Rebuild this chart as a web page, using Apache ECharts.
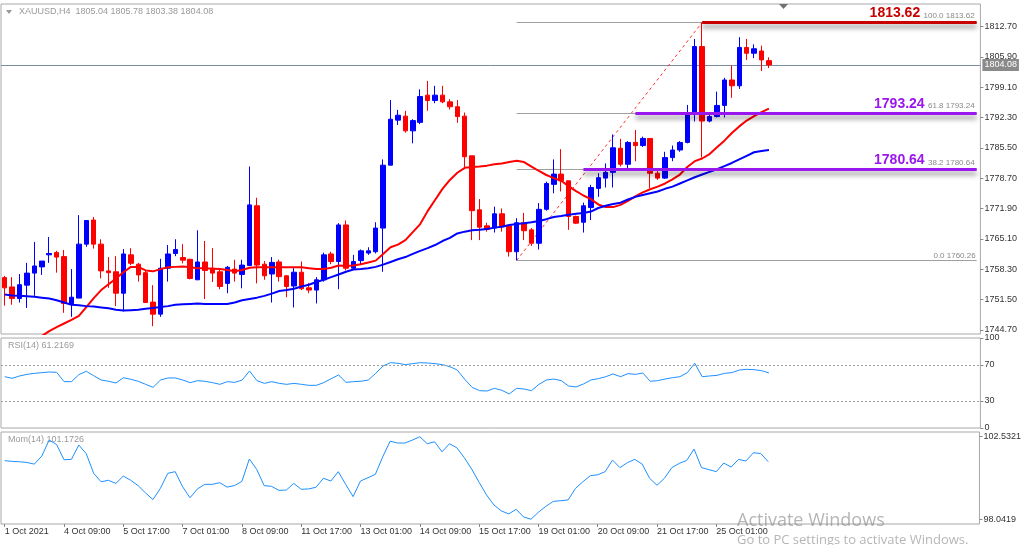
<!DOCTYPE html>
<html><head><meta charset="utf-8">
<script src="https://cdn.jsdelivr.net/npm/echarts@6/dist/echarts.min.js"></script>
<style>html,body{margin:0;padding:0;background:#fff;}#c{width:1024px;height:545px;}</style>
</head><body><div id="c"></div>
<script>
const symbolName = 'XAUUSD,H4';
const opens = [1756.4,1754.3,1751.7,1754.7,1757.4,1758.8,1761.5,1762.0,1761.1,1750.5,
1751.8,1763.9,1769.3,1763.9,1757.9,1757.7,1752.9,1761.5,1759.4,1757.5,
1750.9,1748.2,1758.5,1761.8,1760.9,1760.5,1755.9,1759.9,1758.5,1757.7,
1755.1,1758.3,1757.1,1759.1,1772.5,1759.4,1757.2,1759.9,1756.8,1754.5,
1757.6,1754.1,1753.6,1755.9,1761.7,1760.0,1768.2,1758.5,1760.2,1761.9,
1762.2,1767.5,1781.6,1791.7,1792.6,1789.3,1791.2,1797.3,1796.1,1797.3,
1795.8,1794.7,1792.6,1783.7,1771.6,1768.0,1767.5,1770.7,1768.0,1762.2,
1768.7,1767.1,1764.1,1771.7,1777.3,1779.6,1778.1,1770.1,1768.8,1772.1,
1776.4,1778.7,1780.0,1785.4,1781.8,1786.7,1786.0,1787.6,1779.8,1778.7,
1783.3,1785.0,1786.7,1793.0,1808.2,1791.5,1792.5,1795.0,1800.7,1799.4,
1808.0,1806.7,1807.2,1805.04];
const highs = [1756.8,1756.5,1757.2,1759.7,1764.4,1760.1,1765.5,1762.4,1762.6,1758.3,
1770.4,1769.3,1770.0,1765.0,1761.0,1761.2,1762.8,1763.0,1759.7,1757.9,
1754.7,1760.6,1763.7,1765.0,1763.9,1760.6,1767.0,1764.6,1763.0,1758.1,
1759.0,1760.4,1760.4,1781.3,1774.3,1760.1,1761.0,1760.4,1757.0,1758.7,
1760.0,1755.2,1756.5,1762.0,1762.2,1768.6,1769.2,1761.5,1762.7,1763.2,
1768.8,1782.9,1796.2,1794.0,1793.8,1791.9,1798.6,1800.5,1799.4,1799.4,
1796.4,1796.2,1793.4,1783.7,1774.0,1768.7,1772.3,1771.9,1768.0,1769.7,
1770.9,1767.5,1773.1,1777.9,1782.9,1785.2,1778.1,1770.3,1773.2,1777.2,
1779.8,1782.0,1788.5,1787.5,1787.0,1789.5,1788.0,1787.6,1780.5,1784.6,
1786.0,1787.0,1795.1,1809.9,1813.62,1793.2,1798.1,1801.2,1803.9,1810.3,
1809.9,1808.7,1808.4,1805.78];
const lows = [1750.1,1750.3,1750.8,1749.6,1752.3,1757.0,1759.7,1757.5,1748.5,1747.6,
1751.8,1763.3,1762.9,1756.2,1754.1,1750.0,1748.8,1759.2,1755.5,1750.7,
1745.5,1747.6,1755.5,1761.2,1759.6,1756.0,1755.9,1751.6,1755.4,1753.8,
1752.9,1755.5,1754.0,1759.0,1755.1,1755.9,1750.8,1755.5,1752.0,1749.7,
1753.6,1752.9,1750.6,1755.5,1759.4,1753.8,1758.0,1758.1,1759.4,1761.5,
1761.8,1757.7,1781.6,1790.6,1788.9,1786.5,1790.8,1793.8,1795.5,1795.5,
1794.1,1791.1,1780.7,1764.8,1764.8,1766.7,1766.5,1766.7,1761.1,1760.26,
1764.8,1763.5,1762.7,1771.4,1775.3,1775.7,1767.1,1768.4,1766.5,1769.3,
1774.5,1776.6,1776.6,1781.3,1780.9,1782.5,1785.7,1776.4,1778.3,1778.5,
1782.5,1784.6,1786.5,1791.4,1783.3,1791.2,1792.3,1792.3,1796.7,1798.7,
1805.2,1805.6,1802.7,1803.38];
const closes = [1754.1,1751.7,1754.8,1757.4,1759.0,1760.1,1761.8,1761.0,1750.6,1752.0,
1763.9,1769.2,1763.9,1757.9,1757.5,1752.9,1761.7,1759.6,1757.0,1750.8,
1748.2,1758.5,1761.7,1762.7,1760.3,1756.2,1759.9,1758.0,1757.4,1754.4,
1758.7,1757.4,1759.2,1772.7,1759.2,1756.8,1759.8,1756.6,1754.4,1757.6,
1753.9,1753.6,1755.9,1761.5,1760.0,1768.2,1758.5,1760.0,1762.4,1762.4,
1767.5,1781.6,1791.9,1792.8,1789.3,1791.6,1797.0,1796.1,1797.3,1795.8,
1794.7,1792.5,1783.5,1771.4,1767.7,1767.2,1770.7,1767.8,1762.2,1768.7,
1766.9,1764.1,1771.7,1777.5,1779.6,1778.1,1770.1,1768.6,1772.5,1776.6,
1778.8,1780.0,1785.5,1781.8,1786.7,1786.0,1787.6,1779.8,1778.7,1783.3,
1785.0,1786.7,1793.0,1808.2,1791.5,1792.5,1795.0,1800.7,1799.4,1808.0,
1806.7,1807.7,1805.2,1804.08];
const maFast = [null,null,null,null,null,1743.3,1744.4,1745.3,1746.1,1746.9,
1747.8,1749.8,1751.8,1753.6,1754.9,1756.2,1757.6,1758.8,1758.8,1758.0,
1757.8,1758.3,1758.7,1758.8,1758.9,1758.7,1758.5,1758.5,1758.4,1758.3,
1758.1,1757.8,1758.1,1758.6,1758.7,1758.7,1758.7,1758.7,1758.7,1758.7,
1758.7,1758.5,1758.3,1758.3,1758.6,1759.1,1759.0,1759.1,1759.4,1759.8,
1760.2,1761.7,1763.2,1763.8,1764.8,1766.6,1768.4,1771.3,1773.8,1776.3,
1778.3,1779.9,1781.0,1781.2,1781.3,1781.5,1781.8,1782.0,1782.3,1782.6,
1782.3,1781.3,1780.3,1779.4,1778.7,1778.1,1776.9,1775.8,1774.8,1774.0,
1772.8,1772.2,1772.2,1772.7,1773.6,1774.6,1775.5,1776.2,1776.8,1777.5,
1778.4,1779.5,1781.2,1782.5,1783.1,1784.1,1785.6,1787.1,1788.8,1790.3,
1791.6,1792.6,1793.5,1794.3];
const maSlow = [1752.6,1752.4,1752.3,1752.2,1752.1,1751.9,1751.7,1751.3,1750.8,1750.3,
1750.2,1750.0,1749.9,1749.7,1749.5,1749.2,1749.0,1749.1,1749.2,1749.4,
1749.6,1749.8,1750.0,1750.3,1750.4,1750.5,1750.6,1750.5,1750.5,1750.5,
1750.5,1750.8,1751.3,1751.6,1751.9,1752.3,1752.8,1753.4,1753.6,1753.9,
1754.4,1754.8,1755.4,1755.9,1756.5,1757.1,1757.7,1758.2,1758.3,1758.5,
1758.8,1759.3,1759.9,1760.5,1761.0,1761.7,1762.4,1763.0,1763.7,1764.6,
1765.3,1766.3,1766.7,1767.0,1767.1,1767.3,1767.6,1767.8,1768.2,1768.4,
1768.6,1768.8,1769.1,1769.5,1770.0,1770.2,1770.5,1770.7,1770.9,1771.2,
1772.0,1772.5,1772.9,1773.2,1773.9,1774.5,1774.9,1775.3,1775.7,1776.3,
1776.8,1777.5,1778.2,1778.9,1779.5,1780.1,1780.7,1781.4,1782.1,1782.9,
1783.7,1784.5,1784.8,1785.0];
const rsi = [57.0,55.2,57.8,59.6,60.7,61.5,62.2,61.9,51.5,51.5,
59.3,63.0,58.1,53.3,51.9,50.0,55.9,54.1,51.9,48.5,
45.2,53.3,55.6,55.6,53.3,50.4,52.6,51.9,50.4,48.5,
51.5,50.7,53.3,63.3,52.6,49.6,51.5,49.6,48.5,49.6,
48.5,47.4,47.4,50.4,54.8,58.9,50.7,51.5,51.9,53.3,
60.7,68.9,72.6,71.9,70.4,71.5,72.6,72.2,71.5,70.4,
68.1,64.4,54.1,45.2,41.5,41.1,44.1,41.9,37.8,44.1,
43.3,41.5,48.5,53.3,54.4,52.6,46.7,45.6,48.9,53.3,
54.8,57.0,60.0,57.0,60.4,59.6,61.1,51.9,52.6,54.4,
55.9,57.0,61.5,71.9,57.0,57.8,58.5,60.7,61.5,64.4,
65.2,64.8,63.7,61.2169];
const mom = [101.23,101.19,101.17,101.13,101.04,101.48,102.35,102.11,101.28,101.30,
102.08,101.61,100.54,100.08,100.16,99.99,100.39,100.16,99.87,99.47,
99.11,99.72,100.54,100.63,99.81,99.21,99.69,99.94,99.94,100.03,
99.79,99.87,100.10,101.32,100.75,99.87,99.83,99.61,99.63,99.99,
99.67,99.69,99.78,100.27,100.12,100.63,99.94,99.27,100.12,100.30,
100.48,101.44,102.29,102.19,102.19,102.35,102.5321,102.15,102.26,101.71,
102.15,101.93,101.39,100.77,100.05,99.36,98.82,98.49,98.33,98.58,
98.16,98.0419,98.42,98.74,99.01,99.05,99.09,99.72,100.08,100.41,
100.46,100.63,101.26,100.85,101.12,101.30,101.04,100.27,99.89,100.27,
100.85,101.08,101.24,101.86,100.85,100.74,100.63,101.10,100.88,101.30,
101.21,101.66,101.62,101.1726];
const timeLabels = ['1 Oct 2021','4 Oct 09:00','5 Oct 17:00','7 Oct 01:00','8 Oct 09:00','11 Oct 17:00','13 Oct 01:00','14 Oct 09:00','15 Oct 17:00','19 Oct 01:00','20 Oct 09:00','21 Oct 17:00','25 Oct 01:00'];
const priceTicks = [1744.70,1751.50,1758.30,1765.10,1771.90,1778.70,1785.50,1792.30,1799.10,1805.90,1812.70];
const rsiTicks = [0,30,70,100];
const rsiLevels = [30,70];
const momTicks = [98.0419,102.5321];
const fibStartBar = 69, fibEndBar = 94;
const fibPcts = ['100.0','61.8','38.2','0.0'];
const fibPrices = [1813.62,1793.24,1780.64,1760.26];
const drawnPrices = [1813.62,1793.24,1780.64];
const drawnFromBars = [94,85,78];

// ---- layout / style ----
const SLOTS = 132;
const slots = Array.from({length: SLOTS}, (_, i) => String(i));
const FONT = '"Liberation Sans", Arial, sans-serif';
const GRAY = '#a0a0a0';
const drawnColors = ['#c80000','#9a16ee','#9a16ee'];
const lastIdx = closes.length - 1;
const ohlc = opens.map((o, i) => [o, closes[i], lows[i], highs[i]]);

const gridBase = {left: 1, right: 43.6, show: true, borderColor: '#a8a8a8', borderWidth: 1, backgroundColor: '#fff'};
function xAx(gi, showLabels) {
  return {
    type: 'category', gridIndex: gi, data: slots, boundaryGap: true,
    axisLine: {show: false}, splitLine: {show: false},
    axisTick: showLabels ? {show: true, alignWithLabel: true, length: 3, lineStyle: {color: '#888'},
      interval: (idx) => idx % 8 === 0 && idx / 8 < timeLabels.length} : {show: false},
    axisLabel: showLabels ? {show: true, interval: 0, align: 'left', margin: 3, fontSize: 9, color: '#333', fontFamily: FONT,
      formatter: (v, idx) => (idx % 8 === 0 && timeLabels[idx / 8]) ? timeLabels[idx / 8] : ''} : {show: false}
  };
}
function yAx(gi, min, max, ticks, fmt) {
  return {
    type: 'value', gridIndex: gi, position: 'right', min: min, max: max, scale: true,
    splitLine: {show: false}, axisLine: {show: false},
    axisTick: {show: true, customValues: ticks, length: 3, lineStyle: {color: '#888'}},
    axisLabel: {show: true, customValues: ticks, formatter: fmt, fontSize: 9, color: '#333', margin: 4, fontFamily: FONT}
  };
}

const fibLineData = fibPrices.map((p) => [
  {coord: [fibStartBar, p], lineStyle: {color: GRAY, width: 1, type: 'solid'}},
  {coord: [SLOTS - 1, p]}
]);
fibLineData[3][0].label = {show: true, position: 'insideEndTop', distance: 1, formatter: fibPcts[3] + ' ' + fibPrices[3].toFixed(2), color: '#888', fontSize: 8, fontFamily: FONT};

const drawnLineData = drawnPrices.map((p, k) => [
  {coord: [drawnFromBars[k], p],
   lineStyle: {color: drawnColors[k], width: 3, type: 'solid', shadowColor: 'rgba(0,0,0,0.45)', shadowBlur: 5, shadowOffsetY: 4},
   label: {show: true, position: 'insideEndTop', distance: 2,
     formatter: '{b|' + p.toFixed(2) + '} {s|' + fibPcts[k] + ' ' + fibPrices[k].toFixed(2) + '}',
     rich: {b: {color: drawnColors[k], fontSize: 14, fontWeight: 'bold', fontFamily: FONT, verticalAlign: 'bottom'},
            s: {color: '#888', fontSize: 8, fontFamily: FONT, verticalAlign: 'bottom', padding: [0,0,1,0]}}}},
  {coord: [SLOTS - 1, p]}
]);

const option = {
  animation: false,
  backgroundColor: '#fff',
  grid: [
    Object.assign({top: 4, height: 330}, gridBase),
    Object.assign({top: 338, height: 90}, gridBase),
    Object.assign({top: 432, height: 92}, gridBase)
  ],
  xAxis: [xAx(0, false), xAx(1, false), xAx(2, true)],
  yAxis: [
    yAx(0, 1743.75, 1817.74, priceTicks, (v) => v.toFixed(2)),
    yAx(1, 0, 100, rsiTicks, (v) => String(v)),
    yAx(2, 97.78, 102.79, momTicks, (v) => v.toFixed(4))
  ],
  series: [
    {
      type: 'candlestick', xAxisIndex: 0, yAxisIndex: 0, data: ohlc, barWidth: 5, clip: true, z: 3,
      itemStyle: {color: '#0000ff', color0: '#ff0000', borderColor: '#0000ff', borderColor0: '#ff0000', borderWidth: 1},
      markLine: {
        silent: true, symbol: ['none', 'none'], animation: false, z: 2,
        label: {show: false},
        data: [
          {yAxis: closes[lastIdx], lineStyle: {color: '#7b8ca0', width: 1, type: 'solid'},
           label: {show: true, position: 'end', distance: 2, formatter: closes[lastIdx].toFixed(2),
             backgroundColor: '#8a8a8a', color: '#fff', fontSize: 9, padding: [2, 2, 1, 2], fontFamily: FONT}},
          [{coord: [fibStartBar, fibPrices[3]], lineStyle: {color: '#ff3030', width: 1, type: [3, 3]}}, {coord: [fibEndBar, fibPrices[0]]}]
        ].concat(fibLineData)
      }
    },
    {
      type: 'line', xAxisIndex: 0, yAxisIndex: 0, data: maFast, showSymbol: false, symbol: 'none', clip: true, z: 4,
      lineStyle: {color: '#ff0000', width: 2}, connectNulls: false,
      markLine: {silent: true, symbol: ['none', 'none'], animation: false, label: {show: false}, data: drawnLineData}
    },
    {
      type: 'line', xAxisIndex: 0, yAxisIndex: 0, data: maSlow, showSymbol: false, symbol: 'none', clip: true, z: 4,
      lineStyle: {color: '#0000ff', width: 2}
    },
    {
      type: 'line', xAxisIndex: 1, yAxisIndex: 1, data: rsi, showSymbol: false, symbol: 'none', clip: true,
      lineStyle: {color: '#1e90ff', width: 1},
      markLine: {silent: true, symbol: ['none', 'none'], animation: false, label: {show: false},
        lineStyle: {color: '#a0a0a0', type: [2, 2], width: 1},
        data: rsiLevels.map((v) => ({yAxis: v}))}
    },
    {
      type: 'line', xAxisIndex: 2, yAxisIndex: 2, data: mom, showSymbol: false, symbol: 'none', clip: true,
      lineStyle: {color: '#1e90ff', width: 1}
    }
  ],
  graphic: [
    {type: 'polygon', shape: {points: [[6, 10], [12, 10], [9, 14]]}, style: {fill: '#999'}},
    {type: 'text', left: 19, top: 7, style: {text: symbolName + '  ' + [opens[lastIdx], highs[lastIdx], lows[lastIdx], closes[lastIdx]].map((v) => v.toFixed(2)).join(' '),
      fill: '#999', fontSize: 9, fontFamily: FONT}},
    {type: 'polygon', shape: {points: [[779, 4], [788, 4], [783.5, 9]]}, style: {fill: '#707070'}},
    {type: 'text', left: 8, top: 341, style: {text: 'RSI(14) ' + rsi[lastIdx].toFixed(4), fill: '#999', fontSize: 9, fontFamily: FONT}},
    {type: 'text', left: 8, top: 435, style: {text: 'Mom(14) ' + mom[lastIdx].toFixed(4), fill: '#999', fontSize: 9, fontFamily: FONT}},
    {type: 'text', left: 737, top: 512, style: {text: 'Activate Windows', fill: 'rgba(120,120,120,0.55)', fontSize: 18, fontFamily: '"Open Sans", sans-serif'}},
    {type: 'text', left: 737, top: 534, style: {text: 'Go to PC settings to activate Windows.', fill: 'rgba(120,120,120,0.55)', fontSize: 13, fontFamily: '"Open Sans", sans-serif'}}
  ]
};

const chart = echarts.init(document.getElementById('c'), null, {renderer: 'canvas'});
chart.setOption(option);
</script>
</body></html>
